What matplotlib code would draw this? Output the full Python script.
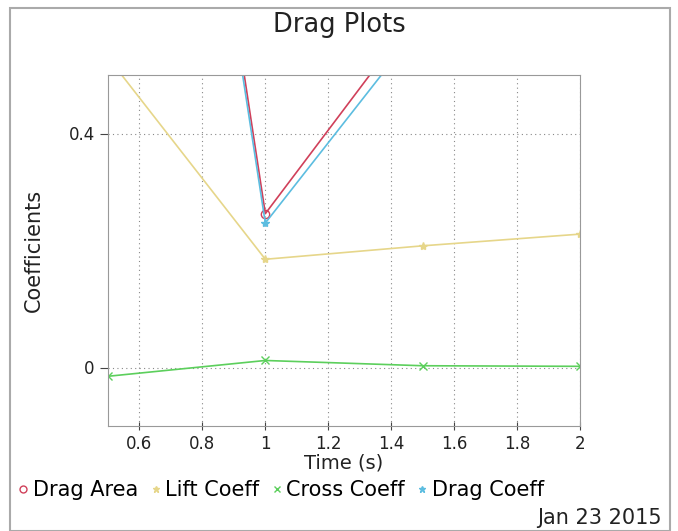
import matplotlib.pyplot as plt
from matplotlib.lines import Line2D
from matplotlib.patches import Rectangle

# data
t = [0.5, 1.0, 1.5, 2.0]
drag_area = [2.03, 0.263, 0.62, 0.97]
lift_coeff = [0.53, 0.185, 0.208, 0.228]
cross_coeff = [-0.015, 0.012, 0.003, 0.002]
drag_coeff = [2.0, 0.247, 0.59, 0.93]

names = ['Drag Area', 'Lift Coeff', 'Cross Coeff', 'Drag Coeff']
colors = ['#d0405a', '#e6d68a', '#5ccf5c', '#5cbde0']
markers = ['o', '*', 'x', '*']

fig = plt.figure(figsize=(6.78, 5.31), dpi=100)
ax = fig.add_axes([108/678, 1-426/531, 472/678, 351/531])

series = [drag_area, lift_coeff, cross_coeff, drag_coeff]
for y, c, m in zip(series, colors, markers):
    ax.plot(t, y, color=c, marker=m, mfc='none' if m == 'o' else c,
            ms=6, lw=1.2)

ax.set_xlim(0.5, 2)
ax.set_ylim(-0.1, 0.5)
ax.set_xticks([0.6, 0.8, 1, 1.2, 1.4, 1.6, 1.8, 2])
ax.set_xticklabels(['0.6', '0.8', '1', '1.2', '1.4', '1.6', '1.8', '2'])
ax.set_yticks([0, 0.4])
ax.set_yticklabels(['0', '0.4'])
ax.grid(True, ls=(0, (1, 3)), color='#888888', lw=0.8)
for s in ax.spines.values():
    s.set_color('#999999')
ax.tick_params(colors='#444444', labelsize=12, direction='inout', length=6)
ax.tick_params(axis='y', direction='out')
for lbl in ax.get_xticklabels() + ax.get_yticklabels():
    lbl.set_color('#222222')

ax.set_xlabel('Time (s)', fontsize=14, labelpad=0, color='#222222')
ax.set_ylabel('Coefficients', fontsize=15, labelpad=18, color='#222222')
fig.text(0.5, 1-25/531, 'Drag Plots', ha='center', va='center',
         fontsize=18.5, color='#222222')
fig.text(662/678, 1-518/531, 'Jan 23 2015', ha='right', va='center',
         fontsize=15, color='#222222')

handles = [Line2D([], [], color=c, marker=m, ls='none', ms=5,
                  mfc='none' if m == 'o' else c)
           for c, m in zip(colors, markers)]
fig.legend(handles, names, loc='center left',
           bbox_to_anchor=(18/678, 1-490/531),
           ncol=4, frameon=False, fontsize=15, handlelength=0.5,
           handletextpad=0.2, columnspacing=0.6, borderaxespad=0,
           borderpad=0)

fig.patches.append(Rectangle((10/678, 0), 660/678, 1-8/531,
                             transform=fig.transFigure, fill=False,
                             ec='#aaaaaa', lw=1.5))

fig.savefig('out.png', dpi=100)
